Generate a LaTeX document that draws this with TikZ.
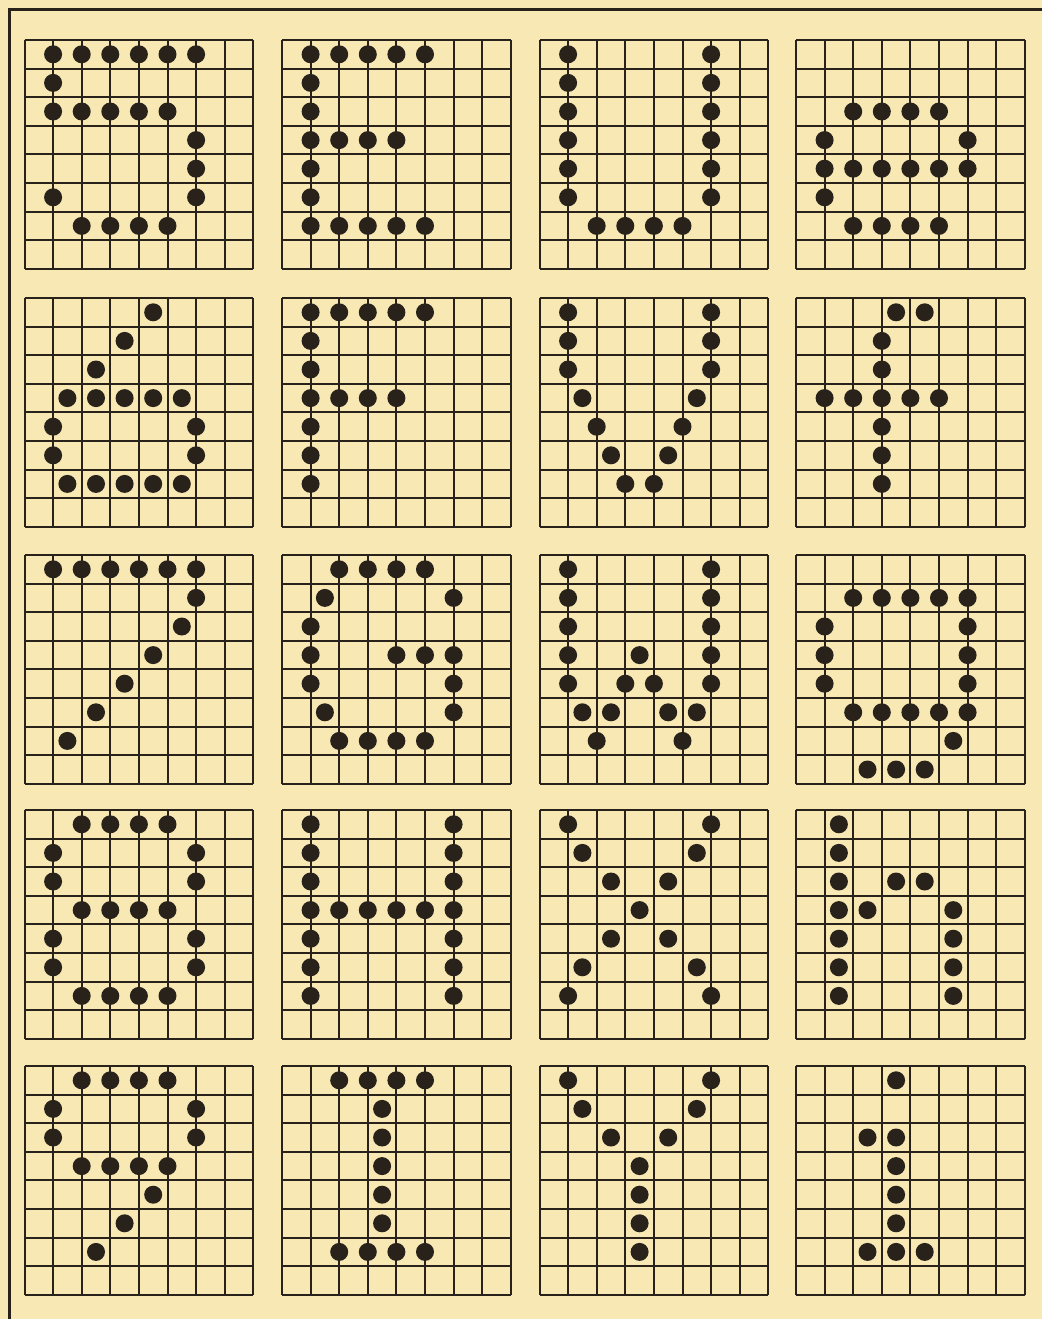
\documentclass[tikz,border=0pt]{standalone}
\definecolor{paper}{RGB}{248,232,180}
\definecolor{ink}{RGB}{40,34,27}
\tikzset{
  gridline/.style={draw=ink,line width=1pt},
  dotmark/.style={fill=ink},
  frameline/.style={draw=ink,line width=1.8pt}
}
\newcommand\lettergrid[3]{%
  \begin{scope}[shift={(#1,#2)}]
    \foreach \k in {0,...,8} {
      \draw[gridline] (\k*28.6,0) -- (\k*28.6,228.8);
      \draw[gridline] (0,\k*28.6) -- (228.8,\k*28.6);
    }
    \foreach \c/\r in {#3} {
      \fill[dotmark] (\c*28.6,\r*28.6+14.3) circle[radius=4.5pt];
    }
  \end{scope}}
\begin{document}
\begin{tikzpicture}[x=0.5pt,y=-0.5pt]
\useasboundingbox (0,0) rectangle (1042,1319);
\fill[paper] (0,0) rectangle (1042,1319);
% frame
\coordinate (ftl) at (9.5,9.5);
\coordinate (ftr) at (1042,9.5);
\coordinate (fbl) at (9.5,1319);
\draw[frameline,line cap=rect] (fbl) -- (ftl) -- (ftr);
% row 1
\lettergrid{24.5}{40}{1/0,2/0,3/0,4/0,5/0,6/0,1/1,1/2,2/2,3/2,4/2,5/2,6/3,6/4,1/5,6/5,2/6,3/6,4/6,5/6}
\lettergrid{282}{40}{1/0,2/0,3/0,4/0,5/0,1/1,1/2,1/3,2/3,3/3,4/3,1/4,1/5,1/6,2/6,3/6,4/6,5/6}
\lettergrid{539.5}{40}{1/0,6/0,1/1,6/1,1/2,6/2,1/3,6/3,1/4,6/4,1/5,6/5,2/6,3/6,4/6,5/6}
\lettergrid{796}{40}{2/2,3/2,4/2,5/2,1/3,6/3,1/4,2/4,3/4,4/4,5/4,6/4,1/5,2/6,3/6,4/6,5/6}
% row 2
\lettergrid{24.5}{298}{4.5/0,3.5/1,2.5/2,1.5/3,2.5/3,3.5/3,4.5/3,5.5/3,1/4,6/4,1/5,6/5,1.5/6,2.5/6,3.5/6,4.5/6,5.5/6}
\lettergrid{282}{298}{1/0,2/0,3/0,4/0,5/0,1/1,1/2,1/3,2/3,3/3,4/3,1/4,1/5,1/6}
\lettergrid{539.5}{298}{1/0,6/0,1/1,6/1,1/2,6/2,1.5/3,5.5/3,2/4,5/4,2.5/5,4.5/5,3/6,4/6}
\lettergrid{796}{298}{3.5/0,4.5/0,3/1,3/2,1/3,2/3,3/3,4/3,5/3,3/4,3/5,3/6}
% row 3
\lettergrid{24.5}{555}{1/0,2/0,3/0,4/0,5/0,6/0,6/1,5.5/2,4.5/3,3.5/4,2.5/5,1.5/6}
\lettergrid{282}{555}{2/0,3/0,4/0,5/0,1.5/1,6/1,1/2,1/3,4/3,5/3,6/3,1/4,6/4,1.5/5,6/5,2/6,3/6,4/6,5/6}
\lettergrid{539.5}{555}{1/0,6/0,1/1,6/1,1/2,6/2,1/3,3.5/3,6/3,1/4,3/4,4/4,6/4,1.5/5,2.5/5,4.5/5,5.5/5,2/6,5/6}
\lettergrid{796}{555}{2/1,3/1,4/1,5/1,6/1,1/2,6/2,1/3,6/3,1/4,6/4,2/5,3/5,4/5,5/5,6/5,5.5/6,2.5/7,3.5/7,4.5/7}
% row 4
\lettergrid{24.5}{810}{2/0,3/0,4/0,5/0,1/1,6/1,1/2,6/2,2/3,3/3,4/3,5/3,1/4,6/4,1/5,6/5,2/6,3/6,4/6,5/6}
\lettergrid{282}{810}{1/0,6/0,1/1,6/1,1/2,6/2,1/3,2/3,3/3,4/3,5/3,6/3,1/4,6/4,1/5,6/5,1/6,6/6}
\lettergrid{539.5}{810}{1/0,6/0,1.5/1,5.5/1,2.5/2,4.5/2,3.5/3,2.5/4,4.5/4,1.5/5,5.5/5,1/6,6/6}
\lettergrid{796}{810}{1.5/0,1.5/1,1.5/2,3.5/2,4.5/2,1.5/3,2.5/3,5.5/3,1.5/4,5.5/4,1.5/5,5.5/5,1.5/6,5.5/6}
% row 5
\lettergrid{24.5}{1066}{2/0,3/0,4/0,5/0,1/1,6/1,1/2,6/2,2/3,3/3,4/3,5/3,4.5/4,3.5/5,2.5/6}
\lettergrid{282}{1066}{2/0,3/0,4/0,5/0,3.5/1,3.5/2,3.5/3,3.5/4,3.5/5,2/6,3/6,4/6,5/6}
\lettergrid{539.5}{1066}{1/0,6/0,1.5/1,5.5/1,2.5/2,4.5/2,3.5/3,3.5/4,3.5/5,3.5/6}
\lettergrid{796}{1066}{3.5/0,2.5/2,3.5/2,3.5/3,3.5/4,3.5/5,2.5/6,3.5/6,4.5/6}
\end{tikzpicture}
\end{document}
